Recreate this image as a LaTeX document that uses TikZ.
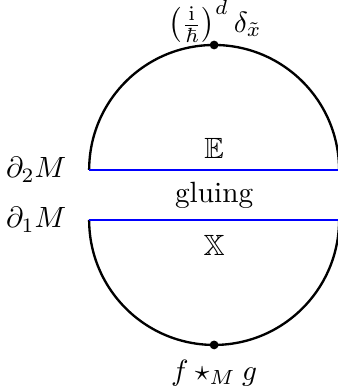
\documentclass[tikz,border=0pt]{standalone}
\usepackage{amsmath,amssymb}
\usetikzlibrary{positioning}
\tikzset{
  glue/boundary/.style={thick, blue},
  glue/arc/.style={thick},
  glue/dot/.style={circle, fill, inner sep=0pt, minimum size=3pt},
  glue/label/.style={inner sep=2pt}
}

\begin{document}
\begin{tikzpicture}
  \useasboundingbox (-2.57,-2.365) rectangle (1.476,2.34);

  \coordinate (l2) at (-1.5,0.3);
  \coordinate (r2) at (1.5,0.3);
  \coordinate (l1) at (-1.5,-0.3);
  \coordinate (r1) at (1.5,-0.3);

  % half disks
  \draw[glue/arc] (l2) arc[start angle=180, end angle=0, radius=1.5];
  \draw[glue/arc] (l1) arc[start angle=180, end angle=360, radius=1.5];
  \draw[glue/boundary] (l2) -- (r2);
  \draw[glue/boundary] (l1) -- (r1);

  \node[glue/dot] (topdot) at (0,1.8) {};
  \node[glue/dot] (botdot) at (0,-1.8) {};

  \node[anchor=base, inner sep=1pt] (delta) at (0.01,1.95) {$\bigl(\frac{\mathrm{i}}{\hbar}\bigr)^{d}\,\delta_{\tilde{x}}$};
  \node[below=0mm of botdot] (star) {$f\star_{M}g$};

  \node (bbE) at (0,0.56) {$\mathbb{E}$};
  \node (glu) at (0,0) {gluing};
  \node (bbX) at (0,-0.6) {$\mathbb{X}$};

  \node[left=1.5mm of l2] (d2) {$\partial_2 M$};
  \node[left=1.5mm of l1] (d1) {$\partial_1 M$};
\end{tikzpicture}
\end{document}
